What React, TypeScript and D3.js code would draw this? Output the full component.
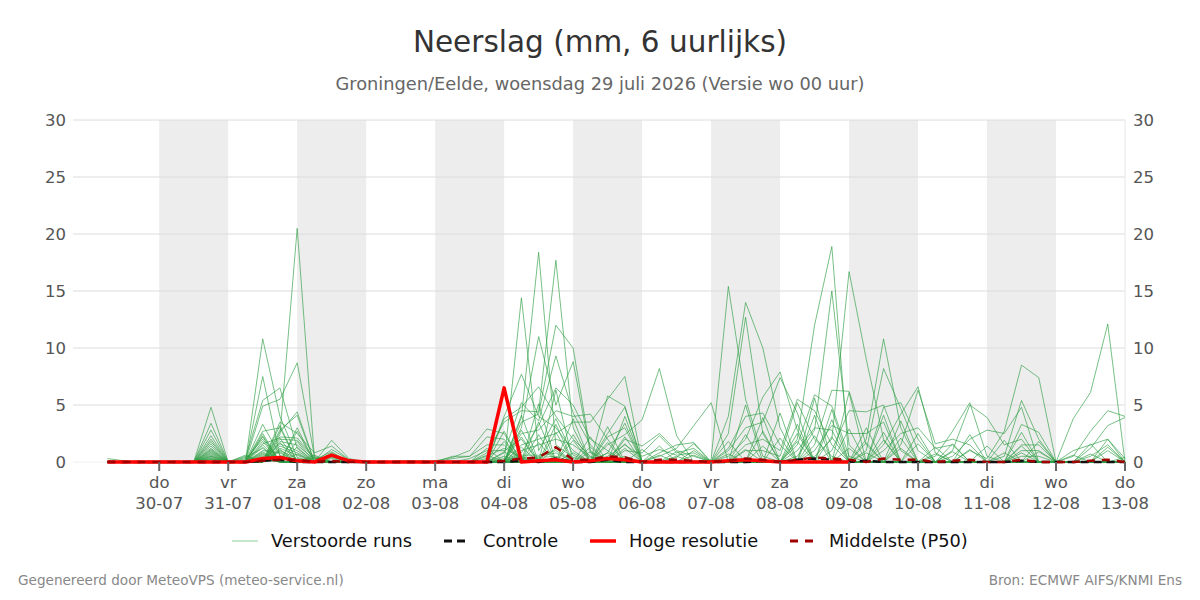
import React from "react";
import * as d3 from "d3";

const W = 1200;
const H = 600;
const M = { left: 73, right: 1125, top: 120, bottom: 462 };
const FONT = "'DejaVu Sans', Verdana, sans-serif";

const TITLE = "Neerslag (mm, 6 uurlijks)";
const SUBTITLE = "Groningen/Eelde, woensdag 29 juli 2026 (Versie wo 00 uur)";
const FOOT_LEFT = "Gegenereerd door MeteoVPS (meteo-service.nl)";
const FOOT_RIGHT = "Bron: ECMWF AIFS/KNMI Ens";

const DAY_NAMES = ["zo", "ma", "di", "wo", "do", "vr", "za"];
const Y_TICKS = [0, 5, 10, 15, 20, 25, 30];

const START = Date.UTC(2026, 6, 29, 6); // first 6-hourly step
const STEP_MS = 6 * 3600 * 1000;
const DOMAIN_START = Date.UTC(2026, 6, 28, 18);
const DOMAIN_END = Date.UTC(2026, 7, 13, 0);

const MEMBERS = 40;
// per 6-hourly step: [member, precipitation] pairs (members not listed: 0)
const ensembleSteps: [number, number][][] = [
  [[5, 0.3], [12, 0.1]],
  [[5, 0.1]],
  [],
  [],
  [],
  [],
  [[0, 4.8], [1, 3.4], [2, 2.8], [3, 2.3], [4, 2.0], [6, 1.8], [7, 1.6], [8, 1.4], [10, 1.2], [11, 1.0], [13, 0.9], [14, 0.8], [16, 0.6], [18, 0.5], [20, 0.4], [22, 0.3], [24, 0.2], [26, 0.1], [30, 0.7], [32, 0.3], [34, 1.1], [36, 0.5], [38, 0.2]],
  [],
  [[3, 0.5], [9, 0.3], [15, 0.6], [21, 0.2], [27, 0.4]],
  [[5, 10.8], [2, 7.5], [9, 5.4], [12, 4.9], [0, 3.3], [14, 2.7], [17, 2.5], [19, 2.2], [21, 2.0], [23, 1.8], [25, 1.5], [27, 1.2], [1, 1.0], [4, 0.8], [7, 0.6], [10, 0.4], [13, 0.3], [16, 0.2], [30, 1.6], [31, 0.9], [33, 2.3], [35, 0.7], [37, 1.3], [39, 0.5]],
  [[9, 6.5], [12, 5.5], [5, 4.0], [3, 3.5], [14, 3.0], [6, 2.8], [8, 2.6], [11, 2.4], [15, 2.2], [18, 2.0], [20, 1.8], [22, 1.6], [24, 1.4], [26, 1.2], [28, 1.0], [1, 0.8], [0, 0.6], [2, 0.5], [7, 0.4], [29, 0.3], [30, 2.1], [32, 1.1], [34, 3.2], [36, 0.9], [38, 1.7]],
  [[11, 20.5], [12, 8.7], [8, 4.4], [6, 4.1], [3, 2.5], [15, 2.1], [18, 1.9], [20, 1.5], [9, 1.2], [22, 1.0], [24, 0.8], [26, 0.6], [5, 0.4], [28, 0.3], [31, 2.7], [33, 1.3], [35, 3.0], [37, 0.7], [39, 1.8]],
  [[3, 0.8], [12, 0.5], [15, 0.4], [18, 0.3], [20, 0.2], [11, 0.3], [30, 0.4], [34, 0.6]],
  [[13, 1.9], [3, 1.4], [17, 1.1], [20, 0.9], [21, 0.7], [23, 0.5], [25, 0.4], [27, 0.3], [32, 0.8], [36, 0.5]],
  [[13, 0.3], [17, 0.2], [3, 0.2]],
  [],
  [],
  [[4, 0.1]],
  [[4, 0.1], [10, 0.05]],
  [[7, 0.1]],
  [[7, 0.4], [14, 0.5], [22, 0.3]],
  [[7, 1.0], [14, 0.5], [22, 0.5], [1, 0.3]],
  [[7, 2.9], [14, 2.2], [22, 1.5], [1, 1.0], [19, 0.8], [25, 0.5], [3, 0.3], [31, 0.6], [35, 1.2]],
  [[10, 4.0], [2, 3.8], [19, 3.5], [7, 2.5], [14, 2.0], [22, 1.5], [25, 1.2], [1, 1.0], [16, 0.8], [28, 0.5], [5, 0.3], [30, 1.8], [33, 2.7], [37, 0.9]],
  [[4, 14.4], [10, 7.7], [16, 5.2], [2, 4.8], [19, 4.5], [6, 3.9], [24, 3.5], [13, 3.0], [8, 2.5], [1, 2.0], [21, 1.5], [27, 1.0], [0, 0.8], [11, 0.6], [17, 0.5], [25, 0.4], [29, 0.3], [31, 2.2], [34, 4.1], [36, 1.3], [38, 2.8]],
  [[6, 18.4], [13, 11.0], [2, 6.6], [19, 4.4], [24, 4.2], [10, 4.0], [16, 3.6], [0, 3.2], [8, 2.8], [21, 2.0], [27, 1.5], [4, 1.0], [11, 0.6], [15, 0.5], [23, 0.4], [26, 0.3], [30, 3.5], [32, 5.1], [35, 2.4], [39, 1.7]],
  [[19, 17.7], [24, 12.0], [16, 9.3], [0, 6.5], [13, 5.0], [8, 4.5], [2, 4.0], [4, 3.8], [10, 3.0], [21, 2.5], [27, 2.0], [6, 1.5], [11, 1.0], [15, 0.8], [23, 0.5], [29, 0.3], [31, 3.3], [33, 6.3], [37, 2.6], [38, 1.2]],
  [[24, 10.0], [13, 8.8], [0, 5.0], [16, 4.3], [8, 4.0], [21, 3.5], [19, 3.0], [2, 2.0], [27, 1.5], [10, 1.0], [4, 0.6], [6, 0.4], [30, 2.4], [34, 3.8], [36, 1.9], [39, 0.8]],
  [[8, 4.2], [21, 3.5], [0, 2.0], [16, 1.5], [24, 1.0], [13, 0.8], [2, 0.5], [27, 0.4], [32, 1.3], [35, 0.9], [37, 2.2]],
  [[3, 5.8], [21, 5.5], [9, 2.5], [17, 2.2], [8, 2.0], [26, 1.5], [0, 1.0], [12, 0.8], [28, 0.5], [31, 1.7], [33, 3.1], [38, 0.8]],
  [[21, 7.5], [3, 4.9], [9, 4.8], [12, 3.4], [17, 3.0], [26, 2.4], [5, 2.0], [28, 1.5], [14, 1.0], [1, 0.5], [30, 1.2], [34, 2.2], [36, 4.0], [39, 1.6]],
  [[26, 3.7], [5, 1.4], [14, 0.8], [28, 0.5], [32, 1.1]],
  [[26, 8.2], [5, 2.5], [14, 2.3], [28, 1.1], [20, 0.8], [7, 0.5], [33, 1.4], [35, 0.6]],
  [[26, 2.3], [20, 1.5], [7, 1.2], [5, 1.0], [14, 0.8], [28, 0.6], [1, 0.4], [30, 0.9], [37, 0.5]],
  [[7, 3.2], [20, 1.7], [1, 1.6], [14, 1.2], [28, 0.8], [5, 0.5], [31, 1.0], [36, 0.6]],
  [[7, 5.2], [18, 0.2]],
  [[18, 15.4], [29, 4.0], [4, 2.5], [11, 1.2], [23, 1.0], [15, 0.5], [32, 1.8], [38, 0.7]],
  [[29, 14.0], [4, 12.7], [18, 5.5], [11, 4.0], [23, 3.0], [15, 2.0], [0, 1.5], [9, 1.0], [30, 2.4], [34, 5.0], [39, 1.1]],
  [[29, 10.0], [15, 5.7], [11, 4.3], [23, 3.5], [4, 2.5], [0, 2.0], [9, 1.0], [18, 0.5], [31, 3.9], [35, 1.4], [37, 2.7]],
  [[15, 7.9], [23, 7.4], [29, 3.0], [11, 1.5], [0, 1.0], [9, 0.5], [33, 2.1], [36, 4.3]],
  [[0, 5.5], [9, 5.2], [23, 4.3], [15, 2.8], [6, 2.0], [12, 1.5], [27, 1.0], [2, 0.5], [30, 1.8], [32, 3.3], [38, 2.5]],
  [[6, 12.0], [12, 5.9], [0, 4.5], [27, 3.0], [2, 2.8], [9, 2.0], [17, 1.5], [25, 1.0], [10, 0.5], [31, 4.1], [35, 2.3], [39, 5.6]],
  [[6, 18.9], [2, 15.0], [17, 6.3], [12, 4.9], [25, 3.2], [27, 2.8], [10, 2.0], [0, 1.5], [22, 1.0], [9, 0.5], [33, 3.7], [34, 2.2], [37, 4.6]],
  [[10, 16.7], [17, 6.2], [22, 4.5], [25, 2.5], [2, 1.5], [12, 0.5], [30, 2.9], [36, 1.2], [38, 6.1]],
  [[10, 9.0], [22, 4.4], [25, 2.5], [3, 2.0], [17, 1.5], [13, 1.0], [32, 1.7], [39, 3.0], [35, 0.8]],
  [[3, 10.8], [13, 8.2], [22, 5.0], [19, 4.8], [25, 3.5], [10, 2.0], [16, 1.5], [28, 1.0], [31, 2.6], [34, 1.9], [37, 4.1]],
  [[19, 5.2], [13, 4.7], [16, 4.2], [3, 3.0], [28, 2.5], [24, 1.5], [22, 1.0], [33, 3.6], [36, 2.1], [30, 1.2]],
  [[16, 6.6], [24, 6.3], [28, 3.0], [19, 2.0], [13, 1.0], [32, 2.5], [38, 1.6]],
  [[24, 1.6], [28, 1.2], [16, 0.8], [1, 0.5], [35, 0.7], [39, 1.3]],
  [[1, 2.7], [24, 2.0], [28, 1.5], [20, 1.0], [8, 0.5], [31, 1.6], [34, 0.9]],
  [[1, 5.2], [20, 5.0], [8, 2.0], [24, 1.5], [11, 1.0], [33, 2.4], [37, 1.1]],
  [[20, 3.9], [8, 2.8], [1, 0.5], [11, 0.3], [36, 1.4]],
  [[8, 2.5], [11, 2.7], [20, 1.5], [26, 0.5], [30, 0.8], [38, 1.9]],
  [[11, 8.5], [26, 5.4], [8, 4.8], [14, 3.3], [20, 2.0], [5, 1.5], [18, 1.0], [29, 0.5], [32, 1.4], [35, 2.6], [39, 0.8]],
  [[11, 7.4], [14, 2.6], [26, 2.0], [5, 1.5], [18, 1.0], [29, 0.5], [31, 0.9], [34, 1.8]],
  [],
  [[14, 3.8], [5, 1.0], [29, 0.5], [33, 0.6]],
  [[14, 6.1], [29, 2.7], [5, 1.5], [7, 1.2], [23, 0.5], [36, 1.6], [37, 0.7]],
  [[14, 12.1], [29, 4.5], [7, 3.2], [5, 2.0], [23, 1.5], [18, 1.0], [30, 1.3], [38, 2.0]],
  [[29, 4.0], [7, 3.9], [5, 0.3], [39, 0.4]],
];

const hiRes = [0, 0, 0, 0, 0, 0, 0, 0, 0, 0.3, 0.4, 0.1, 0, 0.6, 0.1, 0, 0, 0, 0, 0, 0, 0, 0, 6.5, 0, 0.1, 0.2, 0, 0.1, 0.3, 0.2, 0, 0, 0, 0, 0, 0.1, 0.2, 0.1, 0, 0, 0, 0, 0];

const control = [0, 0, 0, 0, 0, 0, 0, 0, 0, 0.1, 0.2, 0, 0, 0, 0, 0, 0, 0, 0, 0, 0, 0, 0, 0, 0.1, 0, 0.3, 0, 0, 0.2, 0, 0, 0, 0, 0, 0, 0, 0, 0.1, 0, 0.2, 0.3, 0.2, 0, 0.1, 0, 0, 0, 0, 0, 0, 0, 0, 0.1, 0, 0, 0, 0, 0, 0];

const p50 = [0, 0, 0, 0, 0, 0, 0, 0, 0, 0.1, 0.2, 0.2, 0, 0.1, 0, 0, 0, 0, 0, 0, 0, 0, 0, 0.1, 0.3, 0.4, 1.3, 0.2, 0.2, 0.5, 0.4, 0, 0.2, 0.2, 0.1, 0, 0.1, 0.3, 0.2, 0, 0.2, 0.4, 0.3, 0.2, 0, 0.3, 0.2, 0.2, 0, 0.1, 0.2, 0, 0, 0.2, 0, 0, 0, 0.1, 0.2, 0];

const LEGEND = [
  { label: "Verstoorde runs", color: "#8fcf98", width: 1, dash: "", x: 232 },
  { label: "Controle", color: "#111", width: 3, dash: "8,5", x: 444 },
  { label: "Hoge resolutie", color: "#ff0000", width: 3.5, dash: "", x: 590 },
  { label: "Middelste (P50)", color: "#a00000", width: 3, dash: "8,7", x: 790 },
];

export default function App() {
  const x = d3.scaleUtc().domain([new Date(DOMAIN_START), new Date(DOMAIN_END)]).range([M.left, M.right]);
  const y = d3.scaleLinear().domain([0, 30]).range([M.bottom, M.top]);
  const t = (i: number) => new Date(START + i * STEP_MS);

  const members = d3.range(MEMBERS).map((m) =>
    ensembleSteps.map((step) => {
      const hit = step.find((p) => p[0] === m);
      return hit ? hit[1] : 0;
    })
  );

  const line = d3
    .line<number>()
    .x((_, i) => x(t(i)))
    .y((v) => y(v));

  const days = d3.utcDay.range(new Date(Date.UTC(2026, 6, 30)), new Date(Date.UTC(2026, 7, 13, 1)));
  const bands = days.filter((_, i) => i % 2 === 0 && i < days.length - 1);

  return (
    <svg width={W} height={H} style={{ display: "block", position: "absolute", left: 0, top: 0 }} fontFamily={FONT}>
      <rect x={0} y={0} width={W} height={H} fill="#fff" />
      <text x={600} y={52} textAnchor="middle" fontSize={29.5} fill="#333">{TITLE}</text>
      <text x={600} y={90} textAnchor="middle" fontSize={17.8} fill="#666">{SUBTITLE}</text>

      {bands.map((d, i) => (
        <rect key={i} x={x(d)} y={M.top} width={x(d3.utcDay.offset(d, 1)) - x(d)} height={M.bottom - M.top} fill="#ededed" />
      ))}

      {Y_TICKS.map((v) => (
        <g key={v}>
          <line x1={M.left} x2={M.right} y1={y(v)} y2={y(v)} stroke={v === 0 ? "#f0f0f0" : "#dcdcdc"} strokeWidth={1} />
          <text x={66} y={y(v) + 6} textAnchor="end" fontSize={16.5} fill="#555">{v}</text>
          <text x={1133} y={y(v) + 6} textAnchor="start" fontSize={16.5} fill="#555">{v}</text>
        </g>
      ))}
      <line x1={M.right} x2={M.right} y1={M.top} y2={M.bottom} stroke="#e6e6e6" />

      <g fill="none" strokeLinejoin="round">
        {members.map((vals, m) => (
          <path key={m} d={line(vals) || ""} stroke="#2e9e44" strokeOpacity={0.65} strokeWidth={1} />
        ))}
        <path d={line(control) || ""} stroke="#111" strokeWidth={2.5} strokeDasharray="8,5" />
        <path d={line(hiRes) || ""} stroke="#ff0000" strokeWidth={3.5} />
        <path d={line(p50) || ""} stroke="#a00000" strokeWidth={2.5} strokeDasharray="8,7" />
      </g>

      {days.map((d, i) => (
        <g key={i} transform={`translate(${x(d)},0)`}>
          <line y1={M.bottom} y2={M.bottom + 9} stroke="#666" strokeWidth={2} />
          <text y={488} textAnchor="middle" fontSize={16.5} fill="#555">{DAY_NAMES[d.getUTCDay()]}</text>
          <text y={509} textAnchor="middle" fontSize={16.5} fill="#555">{d3.utcFormat("%d-%m")(d)}</text>
        </g>
      ))}

      {LEGEND.map((l) => (
        <g key={l.label}>
          <line x1={l.x} x2={l.x + 26} y1={541} y2={541} stroke={l.color} strokeWidth={l.width} strokeDasharray={l.dash} />
          <text x={l.x + 39} y={547} fontSize={17.8} fill="#111">{l.label}</text>
        </g>
      ))}

      <text x={18} y={585} fontSize={13.6} fill="#888">{FOOT_LEFT}</text>
      <text x={1182} y={585} fontSize={13.6} fill="#888" textAnchor="end">{FOOT_RIGHT}</text>
    </svg>
  );
}
